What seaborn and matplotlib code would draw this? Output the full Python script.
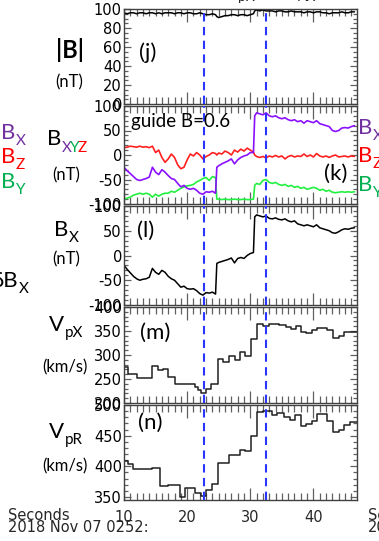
import matplotlib
matplotlib.use("Agg")
import matplotlib.pyplot as plt
from matplotlib.ticker import MultipleLocator
import pandas as pd
import seaborn as sns

# magnetic field samples (s after 02:52:00)
t_b = [10.0, 10.5, 11.0, 11.5, 12.0, 12.5, 13.0, 13.5, 14.0, 14.5, 15.0, 15.5, 16.0, 16.5,
       17.0, 17.5, 18.0, 18.5, 19.0, 19.5, 20.0, 20.5, 21.0, 21.5, 22.0, 22.5, 23.0, 23.5,
       24.0, 24.5, 24.7, 25.0, 25.5, 26.0, 26.5, 27.0, 27.5, 28.0, 28.5, 29.0, 29.5, 30.0,
       30.5, 30.7, 31.0, 31.5, 32.0, 32.5, 33.0, 33.5, 34.0, 34.5, 35.0, 35.5, 36.0, 36.5,
       37.0, 37.5, 38.0, 38.5, 39.0, 39.5, 40.0, 40.5, 41.0, 41.5, 42.0, 42.5, 43.0, 43.5,
       44.0, 44.5, 45.0, 45.5, 46.0, 46.5]
b_tot = [96, 95, 96, 96, 95, 96, 96, 95, 96, 96, 95, 96, 95, 96,
         96, 96, 95, 96, 96, 95, 96, 96, 95, 95, 96, 95, 94, 94,
         95, 94, 92, 91, 92, 93, 93, 94, 94, 93, 94, 94, 93, 94,
         95, 98, 99, 98, 99, 98, 98, 98, 97, 98, 98, 97, 97, 98,
         97, 97, 97, 96, 97, 97, 96, 97, 97, 96, 96, 95, 96, 96,
         96, 97, 96, 96, 97, 97]
b_x = [-25, -32, -38, -44, -50, -52, -50, -48, -45, -25, -35, -40, -30, -35,
       -42, -48, -50, -58, -65, -62, -68, -70, -68, -72, -78, -80, -75, -76,
       -74, -78, -25, -22, -18, -15, -12, -8, -18, -10, -5, -2, 0, 5,
       5, 80, 86, 84, 82, 86, 80, 78, 80, 76, 74, 76, 72, 70,
       72, 68, 70, 65, 70, 68, 66, 70, 64, 62, 60, 58, 50, 48,
       50, 55, 56, 55, 58, 60]
b_y = [-90, -88, -86, -82, -80, -78, -80, -78, -80, -86, -80, -84, -80, -78,
       -78, -74, -76, -72, -68, -65, -63, -62, -60, -55, -52, -48, -46, -52,
       -44, -46, -90, -90, -91, -90, -91, -91, -90, -91, -91, -90, -91, -91,
       -90, -62, -58, -60, -52, -50, -56, -58, -56, -60, -62, -60, -64, -62,
       -66, -64, -68, -66, -70, -68, -66, -68, -72, -70, -74, -72, -76, -77,
       -76, -75, -76, -75, -76, -75]
b_z = [15, 16, 18, 17, 16, 18, 16, 17, 15, 18, 5, 10, -5, -15,
       -8, 2, -5, -20, -28, -25, -10, 2, -2, 5, 0, -8, -3, 0,
       5, 3, 0, 4, 2, 8, 5, 0, 10, 6, 12, 8, 14, 10,
       6, 0, -3, -5, -3, -6, -2, -4, -1, -4, -2, -8, -3, -1,
       -4, -2, -3, 2, -3, 0, -4, 3, -2, -4, -2, -5, -2, 0,
       -4, -3, -2, -4, -2, -3]
b_x_l = [-20, -28, -35, -42, -47, -50, -48, -47, -44, -26, -34, -38, -30, -34,
         -42, -47, -50, -57, -64, -62, -67, -68, -67, -71, -77, -80, -75, -76,
         -74, -78, -16, -14, -12, -10, -8, -5, -15, -6, -4, -6, 0, 4,
         6, 78, 82, 80, 78, 80, 75, 74, 76, 73, 72, 74, 70, 68,
         70, 64, 62, 60, 62, 60, 58, 62, 56, 54, 52, 50, 46, 45,
         48, 52, 54, 53, 55, 56]

# proton velocity (step data)
t_vx = [10.0, 10.7, 12.0, 14.4, 15.4, 16.2, 17.0, 18.0, 21.2, 21.7, 22.2, 23.0, 23.8,
        24.9, 25.6, 26.6, 27.5, 28.3, 29.2, 30.1, 31.1, 32.0, 33.0, 34.6, 35.6, 36.4,
        37.2, 38.1, 38.9, 39.7, 40.6, 42.2, 43.1, 44.0, 44.8, 46.9]
v_px = [276, 261, 252, 277, 268, 270, 254, 239, 233, 228, 220, 230, 240,
        291, 285, 298, 289, 306, 298, 333, 365, 361, 364, 362, 358, 355,
        361, 348, 346, 352, 356, 352, 335, 340, 348, 348]
t_vr = [10.0, 10.7, 11.5, 14.4, 15.7, 17.0, 18.8, 19.6, 21.3, 22.2, 23.0, 24.0, 24.9,
        26.6, 28.3, 29.2, 30.1, 31.1, 32.0, 33.5, 34.3, 35.4, 36.3, 37.1, 38.0, 38.8,
        39.7, 40.6, 42.2, 43.1, 44.0, 44.8, 45.8, 46.9]
v_pr = [408, 404, 395, 398, 368, 370, 350, 364, 356, 351, 362, 371, 405,
        418, 427, 425, 450, 488, 490, 483, 487, 481, 476, 483, 465, 469,
        474, 486, 474, 456, 460, 468, 473, 473]

t_dash = [22.7, 32.5]

W, H = 379, 541
PURPLE, RED, GREEN = "#8a10ff", "#ff2020", "#22f040"
L_PURPLE, L_RED, L_GREEN = "#7030a0", "#ff0000", "#00b050"

sns.set_style("ticks")
plt.rcParams["font.family"] = ["DejaVu Sans"]
plt.rcParams["axes.edgecolor"] = "#404040"
plt.rcParams["axes.linewidth"] = 1.0
plt.rcParams["axes.unicode_minus"] = False

fig = plt.figure(figsize=(W / 100, H / 100), dpi=100)


def px(x, y):
    return x / W, 1 - y / H


def add_panel(top, bottom):
    return fig.add_axes([124 / W, 1 - bottom / H, (357 - 124) / W, (bottom - top) / H])


def style(ax, ylim, major, minor, xlabels=False):
    ax.set_xlim(10, 46.9)
    ax.set_ylim(*ylim)
    ax.set_xticks([10, 20, 30, 40])
    ax.xaxis.set_minor_locator(MultipleLocator(1))
    ax.yaxis.set_major_locator(MultipleLocator(major))
    ax.yaxis.set_minor_locator(MultipleLocator(minor))
    ax.tick_params(which="both", direction="in", top=True, right=True,
                   color="#606060", width=0.9)
    ax.tick_params(axis="x", which="major", length=9)
    ax.tick_params(axis="x", which="minor", length=5)
    ax.tick_params(axis="y", which="major", length=5)
    ax.tick_params(axis="y", which="minor", length=3)
    ax.tick_params(axis="y", labelsize=10.5, pad=1.5, colors="#606060", labelcolor="black")
    ax.tick_params(axis="x", labelsize=10.5, pad=7, labelbottom=xlabels)
    ax.set_xlabel("")
    ax.set_ylabel("")
    for t in t_dash:
        ax.axvline(t, color="#2a35ff", lw=1.5, ls=(0, (4, 2.6)), zorder=5)


ax_j = add_panel(9, 104)
ax_k = add_panel(106, 204)
ax_l = add_panel(206, 305)
ax_m = add_panel(307, 403)
ax_n = add_panel(405, 500)

df_b = pd.DataFrame({"t": t_b, "B": b_tot, "Bx": b_x, "By": b_y, "Bz": b_z, "Bxl": b_x_l})

sns.lineplot(data=df_b, x="t", y="B", ax=ax_j, color="black", lw=1.1)
style(ax_j, (0, 100), 20, 5)

sns.lineplot(data=df_b, x="t", y="By", ax=ax_k, color=GREEN, lw=1.2)
sns.lineplot(data=df_b, x="t", y="Bz", ax=ax_k, color=RED, lw=1.2)
sns.lineplot(data=df_b, x="t", y="Bx", ax=ax_k, color=PURPLE, lw=1.2)
style(ax_k, (-100, 100), 50, 10)

sns.lineplot(data=df_b, x="t", y="Bxl", ax=ax_l, color="black", lw=1.1)
style(ax_l, (-100, 100), 50, 10)

sns.lineplot(x=t_vx, y=v_px, ax=ax_m, color="#202020", lw=1.1, drawstyle="steps-post")
style(ax_m, (200, 400), 50, 10)

sns.lineplot(x=t_vr, y=v_pr, ax=ax_n, color="#202020", lw=1.1, drawstyle="steps-post")
style(ax_n, (345, 500), 50, 10, xlabels=True)

LAB = ["Lato", "DejaVu Sans"]


def txt(x, y, s, size, color="black", ha="center", va="center", **kw):
    fig.text(*px(x, y), s, fontsize=size, color=color, ha=ha, va=va, family=LAB, **kw)


def sub_label(x, y, main, sub, size, subsize, color="black", subcolor=None, ha="left"):
    # big letter with a small lowered subscript next to it
    t1 = fig.text(*px(x, y), main, fontsize=size, color=color, ha=ha, va="center", family=LAB)
    fig.canvas.draw()
    bb = t1.get_window_extent()
    x2 = bb.x1 / fig.dpi * 100
    if sub:
        fig.text(*px(x2 + 0.5, y + 8), sub, fontsize=subsize,
                 color=subcolor or color, ha="left", va="center", family=LAB)
    return x2


# panel names on the left
txt(70, 50, "|B|", 17, weight="bold")
txt(69, 82, "(nT)", 12)

xb = sub_label(47, 139, "B", "", 16, 11)
txt(xb + 0.5, 148, "X", 11, L_PURPLE, ha="left")
txt(xb + 8.5, 148, "Y", 11, L_GREEN, ha="left")
txt(xb + 16, 148, "Z", 11, L_RED, ha="left")
txt(66, 175, "(nT)", 12)

sub_label(54, 230, "B", "X", 16, 11)
txt(66, 259, "(nT)", 12)

sub_label(49, 325, "V", "pX", 16, 11)
txt(65, 367, "(km/s)", 12)

sub_label(49, 432, "V", "pR", 16, 11)
txt(65, 466, "(km/s)", 12)

# cropped neighbouring labels
sub_label(1, 133, "B", "X", 16, 11, L_PURPLE)
sub_label(1, 157, "B", "Z", 16, 11, L_RED)
sub_label(1, 182, "B", "Y", 16, 11, L_GREEN)
sub_label(18, 281, "δB", "X", 16, 11, ha="right")
sub_label(358, 128, "B", "X", 16, 11, L_PURPLE)
sub_label(358, 156, "B", "Z", 16, 11, L_RED)
sub_label(358, 185, "B", "Y", 16, 11, L_GREEN)

# panel tags and note
txt(148, 53, "(j)", 16)
txt(336, 174, "(k)", 16)
txt(146, 231, "(l)", 16)
txt(155, 333, "(m)", 16)
txt(150, 423, "(n)", 16)
txt(131, 122, "guide B=0.6", 13.5, ha="left")

# time axis caption
fig.text(*px(8, 516), "Seconds", fontsize=10.5, ha="left", va="center")
fig.text(*px(8, 528), "2018 Nov 07 0252:", fontsize=10.5, ha="left", va="center")
fig.text(*px(368, 516), "Seconds", fontsize=10.5, ha="left", va="center")
fig.text(*px(368, 528), "2018", fontsize=10.5, ha="left", va="center")

# clipped labels from the panel above
fig.text(*px(238, 3), "pX", fontsize=10, ha="left", va="bottom", family=LAB)
fig.text(*px(298, 3), "AX", fontsize=10, ha="left", va="bottom", family=LAB)

fig.savefig("out.png", dpi=100)
